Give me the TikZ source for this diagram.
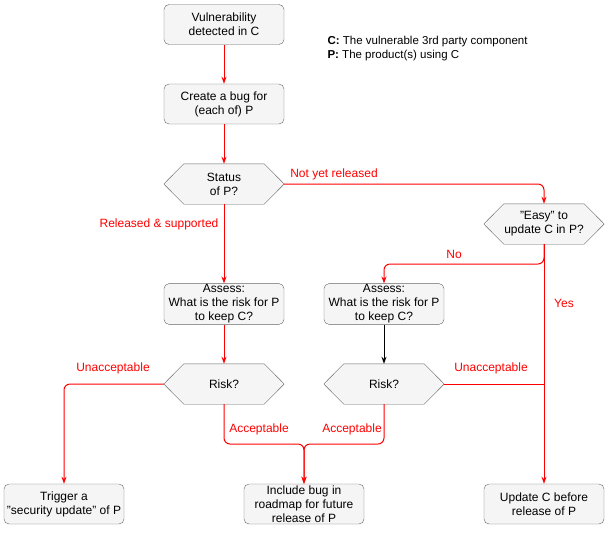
\documentclass[tikz,border=0pt]{standalone}
\usepackage{fontspec}
\setmainfont{Liberation Sans}
\usetikzlibrary{calc,arrows.meta}
\definecolor{bx}{HTML}{F5F5F5}
\definecolor{bd}{HTML}{666666}
\definecolor{rd}{HTML}{FF0000}
\tikzset{
 every node/.style={font=\fontsize{12}{14}\selectfont},
 box/.style={draw=bd,fill=bx,rounded corners=5pt,minimum width=120pt,minimum height=40pt,align=center,inner sep=1pt},
 hexn/.style={minimum width=120pt,minimum height=40pt,align=center,inner sep=1pt},
 rl/.style={draw=rd,line width=1pt,-{Stealth[length=7pt,width=5pt]},rounded corners=6pt},
 rn/.style={draw=rd,line width=1pt,rounded corners=6pt},
 bl/.style={draw=black,line width=1pt,-{Stealth[length=7pt,width=5pt]}},
 lab/.style={text=rd,fill=white,inner sep=1pt}
}
\newcommand{\hexdraw}[1]{\draw[bd,fill=bx] ($(#1.north west)+(20pt,0)$) -- ($(#1.north east)+(-20pt,0)$) -- (#1.east) -- ($(#1.south east)+(-20pt,0)$) -- ($(#1.south west)+(20pt,0)$) -- (#1.west) -- cycle;}
\begin{document}
\begin{tikzpicture}[x=1pt,y=-1pt]
\useasboundingbox (0,0) rectangle (610,542);
\node[box] (v) at (224,24.5) {Vulnerability\\detected in C};
\node[box] (c) at (224,104) {Create a bug for\\(each of) P};
\node[hexn] (s) at (224,184) {};
\hexdraw{s}\node[hexn] (s) at (224,184) {Status\\of P?};
\node[hexn] (e) at (544,224) {};
\hexdraw{e}\node[hexn] (e) at (544,224) {"Easy" to\\update C in P?};
\node[box] (a1) at (224,304) {Assess:\\What is the risk for P\\to keep C?};
\node[box] (a2) at (384,304) {Assess:\\What is the risk for P\\to keep C?};
\node[hexn] (r1) at (224,384) {};
\hexdraw{r1}\node[hexn] (r1) at (224,384) {Risk?};
\node[hexn] (r2) at (384,384) {};
\hexdraw{r2}\node[hexn] (r2) at (384,384) {Risk?};
\node[box] (t) at (64,504) {Trigger a\\"security update" of P};
\node[box] (i) at (304,504) {Include bug in\\roadmap for future\\release of P};
\node[box] (u) at (544,504) {Update C before\\release of P};
\node[anchor=west,align=left,font=\fontsize{11.5}{14}\selectfont] (leg) at (324,49) {\textbf{C:} The vulnerable 3rd party component\\\textbf{P:} The product(s) using C};
\coordinate (j) at (304,444);
\coordinate (k) at (544,384);
\draw[rl] (v) -- (c);
\draw[rl] (c) -- (s);
\draw[rl] (s.east) -- (544,184) -- (e.north);
\node[lab] at (334,174) {Not yet released};
\draw[rl] (s) -- (a1);
\node[lab] at (159,224) {Released \& supported};
\draw[rl] (e.south) -- (544,264) -- (384,264) -- (a2.north);
\node[lab] at (454,254) {No};
\draw[rl] (e.south) -- (u.north);
\node[lab] at (564,303) {Yes};
\draw[rl] (a1) -- (r1);
\draw[bl] (a2) -- (r2);
\draw[rl] (r1.west) -- (64,384) -- (t.north);
\node[lab] at (113,368) {Unacceptable};
\draw[rl] (r1.south) -- (224,444) -- (j) -- (i.north);
\draw[rl] (r2.south) -- (384,444) -- (j) -- (i.north);
\node[lab] at (259,429) {Acceptable};
\node[lab] at (352,429) {Acceptable};
\draw[rn] (r2.east) -- (k);
\node[lab] at (491,368) {Unacceptable};
\end{tikzpicture}
\end{document}
